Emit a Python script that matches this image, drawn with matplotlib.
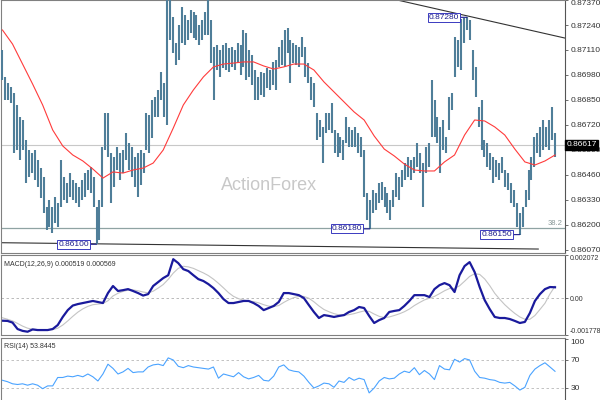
import numpy as np
import matplotlib
matplotlib.use("Agg")
import matplotlib.pyplot as plt

# ---------------- data (prices in 1e-5 units) ----------------
high = np.array([
    87110, 86970, 86938, 86918, 86886, 86824, 86762, 86746, 86642, 86590,
    86574, 86590, 86538, 86496, 86450, 86294, 86330, 86294, 86346, 86314,
    86538, 86450, 86418, 86470, 86434, 86418, 86398, 86434, 86470, 86486,
    86502, 86450, 86294, 86330, 86606, 86782, 86782, 86574, 86554, 86606,
    86574, 86590, 86678, 86626, 86606, 86554, 86574, 86590, 86574, 86782,
    86772, 86850, 86866, 86902, 86996, 86938, 87385, 87380, 87282, 87146,
    87240, 87334, 87292, 87266, 87318, 87308, 87292, 87240, 87266, 87308,
    87380, 87266, 87126, 87136, 87110, 87136, 87146, 87120, 87126, 87110,
    87146, 87136, 87214, 87198, 87110, 87084, 87006, 86970, 86996, 86990,
    87016, 87006, 87048, 87058, 87126, 87162, 87214, 87224, 87162, 87146,
    87136, 87126, 87178, 87126, 87042, 86970, 86938, 86782, 86746, 86710,
    86782, 86782, 86834, 86694, 86678, 86658, 86642, 86762, 86710, 86694,
    86710, 86678, 86658, 86590, 86366, 86330, 86382, 86366, 86418, 86424,
    86398, 86366, 86330, 86382, 86470, 86450, 86486, 86522, 86554, 86538,
    86554, 86626, 86574, 86522, 86606, 86626, 86954, 86850, 86762, 86710,
    86746, 86658, 86866, 86886, 87178, 87162, 87270, 87275, 87280, 87268,
    87110, 87022, 86814, 86850, 86642, 86626, 86574, 86554, 86538, 86522,
    86554, 86486, 86470, 86418, 86382, 86314, 86262, 86294, 86382, 86486,
    86554, 86658, 86678, 86710, 86746, 86710, 86746, 86814, 86678])

low = np.array([
    86954, 86850, 86850, 86834, 86574, 86590, 86538, 86590, 86418, 86450,
    86470, 86434, 86398, 86340, 86262, 86174, 86190, 86158, 86210, 86190,
    86294, 86330, 86314, 86346, 86330, 86314, 86294, 86330, 86346, 86382,
    86366, 86294, 86100, 86122, 86294, 86590, 86554, 86314, 86398, 86486,
    86434, 86470, 86538, 86486, 86450, 86398, 86346, 86408, 86470, 86590,
    86574, 86652, 86762, 86762, 86850, 86762, 86720, 87162, 87094, 87032,
    87058, 87146, 87136, 87162, 87198, 87172, 87162, 87136, 87162, 87188,
    87188, 87042, 86850, 87006, 86970, 87016, 87006, 86996, 87022, 87006,
    87042, 86980, 87022, 86954, 86970, 86928, 86850, 86850, 86876, 86866,
    86912, 86902, 86928, 86902, 87022, 87032, 87022, 87094, 86938, 87042,
    87032, 87022, 87074, 86970, 86938, 86850, 86814, 86642, 86658, 86522,
    86678, 86694, 86678, 86574, 86554, 86574, 86538, 86626, 86606, 86606,
    86606, 86574, 86554, 86346, 86226, 86180, 86262, 86278, 86314, 86330,
    86294, 86262, 86226, 86294, 86346, 86330, 86398, 86434, 86450, 86434,
    86470, 86502, 86470, 86294, 86470, 86502, 86658, 86658, 86626, 86470,
    86590, 86574, 86694, 86798, 86970, 87022, 87006, 87146, 87214, 87162,
    86954, 86866, 86710, 86590, 86554, 86502, 86486, 86418, 86450, 86434,
    86470, 86398, 86382, 86314, 86294, 86190, 86150, 86190, 86294, 86330,
    86434, 86502, 86574, 86554, 86590, 86606, 86590, 86642, 86554])

ma = np.array([
    87214, 87141, 87037, 86933, 86824, 86694, 86611, 86564, 86533, 86491,
    86444, 86476, 86470, 86486, 86496, 86522, 86590, 86704, 86824, 86902,
    86970, 87022, 87037, 87042, 87048, 87048, 87027, 87011, 87022, 87037,
    87037, 87006, 86944, 86892, 86840, 86788, 86746, 86663, 86595, 86559,
    86517, 86486, 86481, 86481, 86528, 86564, 86668, 86746, 86741, 86710,
    86668, 86595, 86528, 86512, 86533, 86564])

# MACD main / signal in 1e-4 units
macd = np.array([
    -10.9, -11.0, -11.8, -14.9, -15.8, -16.2, -15.1, -15.4, -15.4, -15.4,
    -14.9, -13.0, -9.1, -5.8, -3.6, -2.9, -2.4, -1.9, -1.4, -1.9,
    -2.4, 2.4, 5.8, 3.4, 3.8, 4.3, 3.4, 2.4, 1.2, 1.9,
    5.8, 7.7, 9.6, 11.0, 18.7, 16.8, 13.9, 13.0, 11.0, 9.1,
    8.2, 6.7, 4.8, 2.4, -0.5, -2.4, -2.4, -1.9, -1.4, -1.4,
    -2.4, -3.8, -5.8, -4.8, -3.8, -1.9, 2.4, 2.4, 1.9, 1.4,
    0.0, -3.4, -6.7, -9.6, -8.2, -8.6, -9.1, -8.6, -8.2, -6.7,
    -5.8, -4.3, -4.8, -8.6, -12.0, -10.6, -9.6, -6.7, -6.2, -5.8,
    -3.8, -1.4, 1.4, 1.4, 1.4, 0.5, 4.3, 6.2, 7.2, 6.2,
    2.9, 11.0, 15.4, 17.3, 12.5, 5.3, -1.0, -5.3, -9.1, -9.6,
    -9.6, -10.1, -11.0, -12.0, -11.5, -7.2, -1.4, 1.9, 4.3, 5.3,
    5.19])

signal = np.array([
    -9.5, -10.2, -11.0, -12.2, -13.5, -14.5, -15.0, -15.2, -15.2, -15.2,
    -15.2, -14.5, -13.0, -11.0, -8.8, -6.8, -5.2, -4.0, -3.2, -2.9,
    -2.6, -1.3, 1.0, 2.3, 3.2, 3.8, 3.9, 3.5, 2.9, 2.5,
    3.3, 4.8, 6.5, 9.0, 12.0, 14.3, 15.3, 15.0, 14.3, 13.2,
    12.1, 10.8, 9.1, 7.1, 4.9, 2.6, 0.8, -0.3, -1.0, -1.4,
    -1.7, -2.3, -3.2, -3.9, -4.1, -3.6, -2.1, -0.8, 0.2, 0.8,
    0.8, -0.1, -1.8, -3.8, -5.5, -6.6, -7.5, -8.1, -8.3, -8.0,
    -7.5, -6.8, -6.2, -6.4, -7.7, -8.8, -9.4, -9.1, -8.4, -7.6,
    -6.6, -5.3, -3.6, -2.2, -0.9, -0.1, 0.8, 2.1, 3.5, 4.6,
    4.6, 5.9, 8.1, 10.4, 11.7, 11.4, 9.2, 6.0, 2.3, -0.6,
    -3.2, -5.4, -7.4, -9.1, -10.2, -10.2, -8.4, -5.5, -2.5, 2.0,
    5.69])

rsi = np.array([
    41, 39, 36, 35, 36, 34, 36, 34, 29, 33,
    33, 45, 45, 47, 46, 48, 46, 50, 46, 40,
    50, 64, 58, 50, 53, 58, 52, 53, 53, 60,
    63, 64, 62, 73, 70, 61, 59, 62, 60, 59,
    58, 57, 60, 44, 50, 48, 46, 52, 46, 43,
    45, 48, 41, 40, 47, 60, 63, 56, 54, 53,
    47, 38, 30, 33, 37, 36, 31, 40, 38, 45,
    41, 44, 42, 23, 30, 40, 45, 43, 44, 50,
    54, 52, 59, 49, 55, 50, 42, 62, 57, 56,
    71, 67, 72, 70, 54, 45, 44, 42, 41, 38,
    37, 38, 33, 27, 31, 48, 57, 62, 66, 60,
    53.8445])

price_ticks = [0.86070, 0.86200, 0.86330, 0.86460, 0.86590, 0.86720,
               0.86850, 0.86980, 0.87110, 0.87240, 0.87370]
rsi_ticks = [100, 70, 30]
last_price = 0.86617
fib_level = 0.86184
fib_text = "38.2"
upper_trend_idx = [134.3, 191.4]
upper_trend_px = [0.87370, 0.87172]
lower_trend_idx = [-1.0, 182.3]
lower_trend_px = [0.86108, 0.86075]
macd_range = (-0.001778, 0.002072)

high = high / 1e5
low = low / 1e5
ma = ma / 1e5
macd = macd * 1e-4
signal = signal * 1e-4
n = len(high)
idx = np.arange(n)

FONT = "Liberation Sans"
TXT = "#333333"
BORDER = "#808080"

fig = plt.figure(figsize=(6, 4), dpi=100)
fig.patch.set_facecolor("white")

W, H = 600.0, 400.0
def pos(x0, y0, x1, y1):
    return [x0 / W, 1 - y1 / H, (x1 - x0) / W, (y1 - y0) / H]

ax = fig.add_axes(pos(1, 0, 565, 253))
axm = fig.add_axes(pos(1, 255, 565, 335))
axr = fig.add_axes(pos(1, 338, 565, 409))

xlim = (-0.5, n + 2.4)
for a in (ax, axm, axr):
    a.set_xlim(*xlim)
    a.set_xticks([])
    a.yaxis.tick_right()
    a.tick_params(axis="y", length=2.5, width=0.6, color="#555555",
                  labelsize=6, labelcolor=TXT, pad=1.5)
    for s in a.spines.values():
        s.set_color(BORDER)
        s.set_linewidth(0.8)
    a.spines["right"].set_color("#555555")

# ---------------- main price panel ----------------
ax.set_ylim(0.860544, 0.87370)
ax.axhline(last_price, color="#c8c8c8", lw=0.8, zorder=1)
ax.axhline(fib_level, color="#8fa3a3", lw=0.9, zorder=1)
ax.text(n + 1.5, fib_level + 0.00003, fib_text, ha="right", va="bottom",
        fontsize=5.5, color="#8a9999", family=FONT)
ax.text(0.475, 0.268, "ActionForex", transform=ax.transAxes, ha="center",
        va="center", fontsize=13, color="#c8c8c8", family=FONT, zorder=0)

ax.vlines(idx, low, high, color="#4f7e99", lw=1.5, zorder=3)
xma = np.linspace(0, n - 1, len(ma))
ax.plot(xma, ma, color="#ff3b3b", lw=0.8, zorder=4)

ax.axline((upper_trend_idx[0], upper_trend_px[0]),
          (upper_trend_idx[1], upper_trend_px[1]), color="#333333", lw=0.8)
ax.plot(lower_trend_idx, lower_trend_px, color="#333333", lw=0.8, zorder=2)

ax.set_yticks(price_ticks)
ax.set_yticklabels([f"{t:.5f}" for t in price_ticks], family=FONT)
ax.get_yticklabels()[-1].set_va("top")

# swing labels
sw = [
    (int(np.argmin(low[:60])), "low"),
    (100 + int(np.argmin(low[100:150])), "low"),
    (140 + int(np.argmax(high[140:170])), "high"),
    (160 + int(np.argmin(low[160:])), "low"),
]
for i, kind in sw:
    p = low[i] if kind == "low" else high[i]
    ax.annotate(f"{p:.5f}", xy=(i, p), xytext=(-5.5, 0),
                textcoords="offset points", ha="right", va="center",
                fontsize=6, color="#1c1c8c", family=FONT,
                bbox=dict(boxstyle="square,pad=0.12", fc="white",
                          ec="#3a3ac0", lw=0.7),
                arrowprops=dict(arrowstyle="-", color="#1c1c8c", lw=0.8,
                                shrinkA=0, shrinkB=0), zorder=6)

ax.text(1.003, (last_price - 0.860544) / (0.87370 - 0.860544),
        f"{last_price:.5f}", transform=ax.transAxes, ha="left",
        va="center", fontsize=6, color="white", family=FONT, zorder=10,
        bbox=dict(boxstyle="square,pad=0.15", fc="black", ec="black"),
        clip_on=False)

# ---------------- MACD panel ----------------
axm.set_ylim(*macd_range)
axm.axhline(0, color="#b0b0b0", lw=0.6, ls=(0, (3, 3)))
xm = np.linspace(0, n - 1, len(macd))
axm.plot(xm, signal, color="#c4c4c4", lw=0.8)
axm.plot(xm, macd, color="#1a1a9c", lw=1.6)
axm.set_yticks([macd_range[1], 0, macd_range[0]])
axm.set_yticklabels([f"{macd_range[1]:.6f}", "0.00", f"{macd_range[0]:.6f}"],
                    family=FONT)
axm.tick_params(axis="y", labelsize=5, pad=1)
tl = axm.get_yticklabels()
tl[0].set_va("top")
tl[2].set_va("bottom")
axm.text(0.006, 0.92, f"MACD(12,26,9) {macd[-1]:.6f} {signal[-1]:.6f}",
         transform=axm.transAxes, ha="left", va="top", fontsize=5,
         color=TXT, family=FONT)

# ---------------- RSI panel ----------------
axr.set_ylim(0, 101.4)
for lv in rsi_ticks[1:]:
    axr.axhline(lv, color="#b8b8b8", lw=0.6, ls=(0, (3, 3)))
xr = np.linspace(0, n - 1, len(rsi))
axr.plot(xr, rsi, color="#4aa3ff", lw=0.8)
axr.set_yticks(rsi_ticks)
axr.set_yticklabels([str(t) for t in rsi_ticks], family=FONT)
axr.get_yticklabels()[0].set_va("top")
axr.text(0.006, 0.93, f"RSI(14) {rsi[-1]:.4f}", transform=axr.transAxes,
         ha="left", va="top", fontsize=5, color=TXT, family=FONT)

fig.savefig("out.png", dpi=100, facecolor="white")
